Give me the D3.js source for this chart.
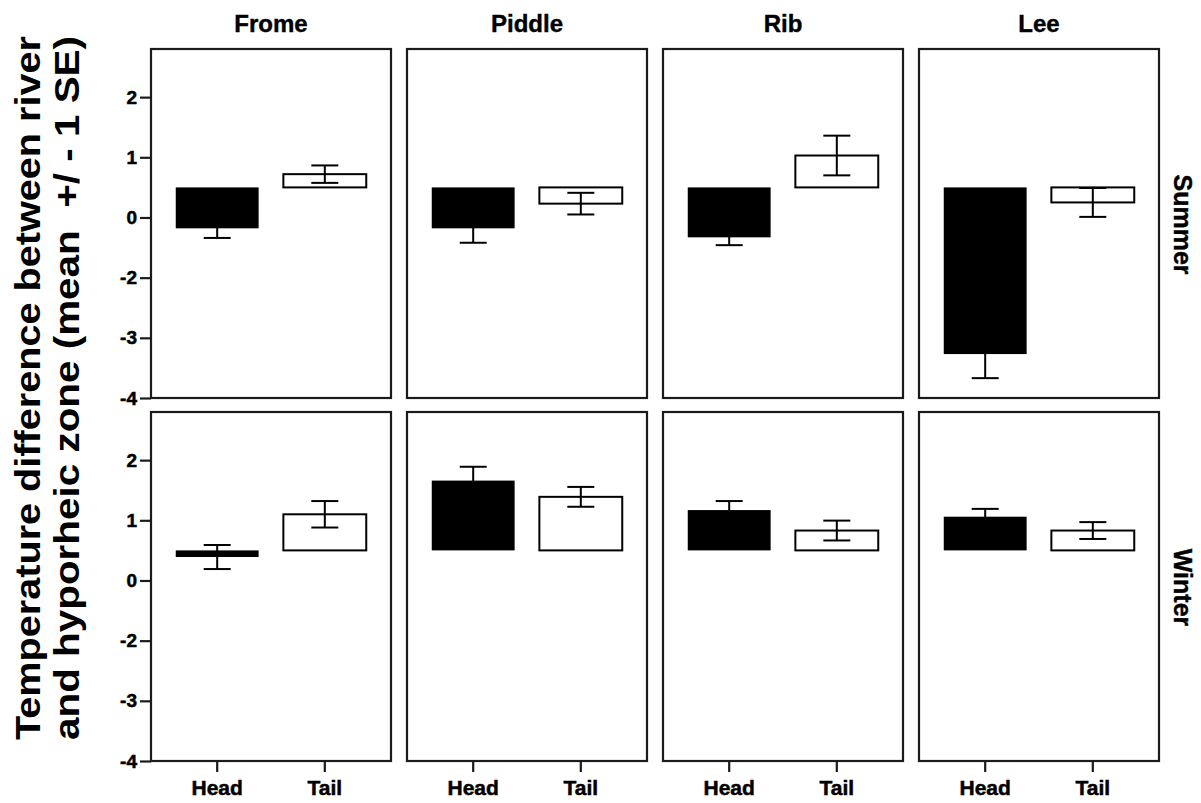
<!DOCTYPE html>
<html>
<head>
<meta charset="utf-8">
<script src="https://cdn.jsdelivr.net/npm/d3@7"></script>
<style>
  html, body { margin: 0; padding: 0; background: #fff; }
  svg { display: block; }
  text { font-family: "Liberation Sans", Arial, sans-serif; font-weight: bold; fill: #000; }
</style>
</head>
<body>
<svg id="chart" width="1201" height="803"></svg>
<script>
// Rivers (columns), seasons (rows) and reach positions (bars within a panel)
const rivers = ["Frome", "Piddle", "Rib", "Lee"];
const seasons = ["Summer", "Winter"];
const positions = ["Head", "Tail"];

// Mean temperature difference and standard error, per river
const summerHead   = [-0.18, -0.18, -0.33, -2.27];
const summerHeadSE = [0.16, 0.24, 0.13, 0.40];
const summerTail   = [0.72, 0.23, 1.03, 0.25];
const summerTailSE = [0.145, 0.18, 0.33, 0.24];
const winterHead   = [0.39, 1.66, 1.17, 1.06];
const winterHeadSE = [0.20, 0.23, 0.15, 0.13];
const winterTail   = [1.10, 1.39, 0.83, 0.83];
const winterTailSE = [0.22, 0.165, 0.165, 0.14];

// Bars are drawn from this reference level
const barBase = 0.5;

// Y axis ticks and the labels printed beside them
const tickValues = [2, 1, 0, -1, -2, -3];
const tickLabels = ["2", "1", "0", "-2", "-3", "-4"];
const yDomain = [-3, 2.8];

const yTitle = ["Temperature difference between river",
                "and hyporheic zone (mean  +/ - 1 SE)"];

// Assemble the per-panel records
const seriesBySeason = {
  Summer: { Head: [summerHead, summerHeadSE], Tail: [summerTail, summerTailSE] },
  Winter: { Head: [winterHead, winterHeadSE], Tail: [winterTail, winterTailSE] }
};
const records = [];
seasons.forEach(s => rivers.forEach((r, i) => positions.forEach(p => {
  records.push({ season: s, river: r, pos: p,
                 mean: seriesBySeason[s][p][0][i], se: seriesBySeason[s][p][1][i] });
})));

// Layout
const gridLeft = 151, gridTop = 49;
const panelW = 240, panelH = 349;
const gapX = 16, gapY = 14;
const stroke = "#1b1b1b";

const svg = d3.select("#chart");

const colX = d3.scaleBand().domain(rivers)
  .range([gridLeft, gridLeft + rivers.length * panelW + (rivers.length - 1) * gapX])
  .paddingInner(gapX / (panelW + gapX)).paddingOuter(0);
const rowY = d3.scaleBand().domain(seasons)
  .range([gridTop, gridTop + seasons.length * panelH + (seasons.length - 1) * gapY])
  .paddingInner(gapY / (panelH + gapY)).paddingOuter(0);

const x = d3.scaleBand().domain(positions).range([0, colX.bandwidth()])
  .paddingInner(0.23).paddingOuter(0.23);
const y = d3.scaleLinear().domain(yDomain).range([rowY.bandwidth(), 0]);

const capW = 27;

seasons.forEach((s, si) => {
  rivers.forEach((r, ri) => {
    const g = svg.append("g")
      .attr("transform", `translate(${colX(r)},${rowY(s)})`);

    const data = records.filter(d => d.season === s && d.river === r);

    // bars from the base level to the mean
    g.selectAll("rect.bar").data(data).join("rect")
      .attr("class", "bar")
      .attr("x", d => x(d.pos))
      .attr("width", x.bandwidth())
      .attr("y", d => y(Math.max(d.mean, barBase)))
      .attr("height", d => Math.abs(y(d.mean) - y(barBase)))
      .attr("fill", d => d.pos === "Head" ? "#000" : "#fff")
      .attr("stroke", "#000")
      .attr("stroke-width", d => d.pos === "Head" ? 0 : 2);

    // error bars: mean +/- 1 SE
    const eb = g.selectAll("g.err").data(data).join("g").attr("class", "err")
      .attr("stroke", "#000").attr("stroke-width", 2);
    eb.append("line")
      .attr("x1", d => x(d.pos) + x.bandwidth() / 2)
      .attr("x2", d => x(d.pos) + x.bandwidth() / 2)
      .attr("y1", d => y(d.mean + d.se))
      .attr("y2", d => y(d.mean - d.se));
    eb.append("line")
      .attr("x1", d => x(d.pos) + x.bandwidth() / 2 - capW / 2)
      .attr("x2", d => x(d.pos) + x.bandwidth() / 2 + capW / 2)
      .attr("y1", d => y(d.mean + d.se))
      .attr("y2", d => y(d.mean + d.se));
    eb.append("line")
      .attr("x1", d => x(d.pos) + x.bandwidth() / 2 - capW / 2)
      .attr("x2", d => x(d.pos) + x.bandwidth() / 2 + capW / 2)
      .attr("y1", d => y(d.mean - d.se))
      .attr("y2", d => y(d.mean - d.se));

    // panel frame
    g.append("rect")
      .attr("x", 0).attr("y", 0)
      .attr("width", colX.bandwidth()).attr("height", rowY.bandwidth())
      .attr("fill", "none").attr("stroke", stroke).attr("stroke-width", 2.2);

    // y axis on the first column
    if (ri === 0) {
      const ax = g.append("g").call(
        d3.axisLeft(y).tickValues(tickValues)
          .tickFormat((d, i) => tickLabels[i])
          .tickSize(11).tickPadding(3));
      ax.select(".domain").remove();
      ax.selectAll(".tick line").attr("stroke", stroke).attr("stroke-width", 2.2);
      ax.selectAll(".tick text")
        .attr("font-size", 19).attr("font-family", "Liberation Sans, Arial, sans-serif")
        .attr("font-weight", "bold").attr("fill", "#000")
        .attr("stroke", "#000").attr("stroke-width", 0.5);
    }

    // x axis on the bottom row
    if (si === seasons.length - 1) {
      const ax = g.append("g")
        .attr("transform", `translate(0,${rowY.bandwidth()})`)
        .call(d3.axisBottom(x).tickSize(11).tickPadding(8));
      ax.select(".domain").remove();
      ax.selectAll(".tick line").attr("stroke", stroke).attr("stroke-width", 2.2);
      ax.selectAll(".tick text")
        .attr("font-size", 21).attr("font-family", "Liberation Sans, Arial, sans-serif")
        .attr("font-weight", "bold").attr("fill", "#000")
        .attr("stroke", "#000").attr("stroke-width", 0.5);
    }
  });
});

// column titles
svg.selectAll("text.col").data(rivers).join("text")
  .attr("class", "col")
  .attr("x", d => colX(d) + colX.bandwidth() / 2)
  .attr("y", 32)
  .attr("text-anchor", "middle")
  .attr("font-size", 24)
  .attr("stroke", "#000").attr("stroke-width", 0.4)
  .text(d => d);

// row labels on the right
svg.selectAll("text.row").data(seasons).join("text")
  .attr("class", "row")
  .attr("transform", d => `translate(1174,${rowY(d) + rowY.bandwidth() / 2 + 1}) rotate(90)`)
  .attr("text-anchor", "middle")
  .attr("font-size", 25)
  .attr("stroke", "#000").attr("stroke-width", 0.4)
  .text(d => d);

// y axis title, two lines
svg.selectAll("text.ytitle").data(yTitle).join("text")
  .attr("class", "ytitle")
  .attr("transform", (d, i) => `translate(${40 + i * 39},388) rotate(-90)`)
  .attr("text-anchor", "middle")
  .attr("font-size", 35)
  .attr("textLength", 704)
  .attr("lengthAdjust", "spacingAndGlyphs")
  .style("white-space", "pre")
  .text(d => d);
</script>
</body>
</html>
